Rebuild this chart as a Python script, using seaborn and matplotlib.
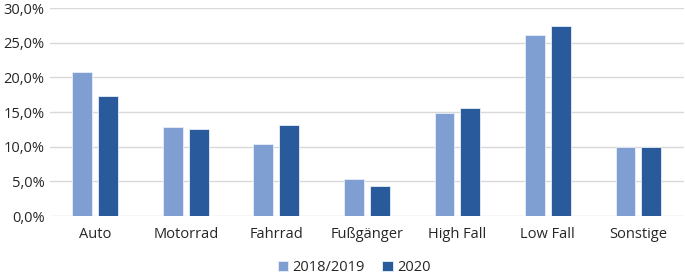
import pandas as pd
import seaborn as sns
import matplotlib.pyplot as plt
from matplotlib.ticker import FuncFormatter

# data (percent)
categories = ["Auto", "Motorrad", "Fahrrad", "Fußgänger", "High Fall", "Low Fall", "Sonstige"]
vals_1819 = [20.8, 12.8, 10.4, 5.3, 14.8, 26.1, 10.0]
vals_2020 = [17.3, 12.5, 13.2, 4.3, 15.6, 27.4, 10.0]
series = ["2018/2019", "2020"]
colors = ["#7f9fd2", "#285a9c"]

df = pd.DataFrame({
    "cat": categories * 2,
    "val": vals_1819 + vals_2020,
    "series": [series[0]] * len(categories) + [series[1]] * len(categories),
})

sns.set_style("white")
plt.rcParams['font.family'] = ['Open Sans', 'DejaVu Sans']

fig = plt.figure(figsize=(6.85, 2.76), dpi=100)
ax = fig.add_axes([0.073, 0.217, 0.925, 0.754])

sns.barplot(
    data=df, x="cat", y="val", hue="series",
    palette=colors, saturation=1, width=0.57, gap=0.23,
    edgecolor="#e8eef8", linewidth=0.6,
    ax=ax, zorder=3,
)

ax.set_ylim(0, 30)
ax.set_xlim(-0.5, len(categories) - 0.5)
ax.set_yticks(range(0, 31, 5))
ax.yaxis.set_major_formatter(FuncFormatter(lambda v, p: f"{v:.1f}%".replace(".", ",")))
ax.grid(axis="y", color="#d9d9d9", linewidth=1, zorder=0)
ax.set_axisbelow(True)
for s in ax.spines.values():
    s.set_visible(False)
ax.set_xlabel("")
ax.set_ylabel("")
ax.tick_params(axis="both", length=0, labelsize=10.5, colors="#262626")
ax.tick_params(axis="x", pad=8)
ax.tick_params(axis="y", pad=4)

ax.legend(
    loc="upper center", bbox_to_anchor=(0.48, -0.15), ncol=2, frameon=False,
    fontsize=10.5, handlelength=0.7, handleheight=0.7, handletextpad=0.3,
    columnspacing=1.2, labelcolor="#262626",
)

plt.savefig("out.png", dpi=100)
plt.close(fig)
